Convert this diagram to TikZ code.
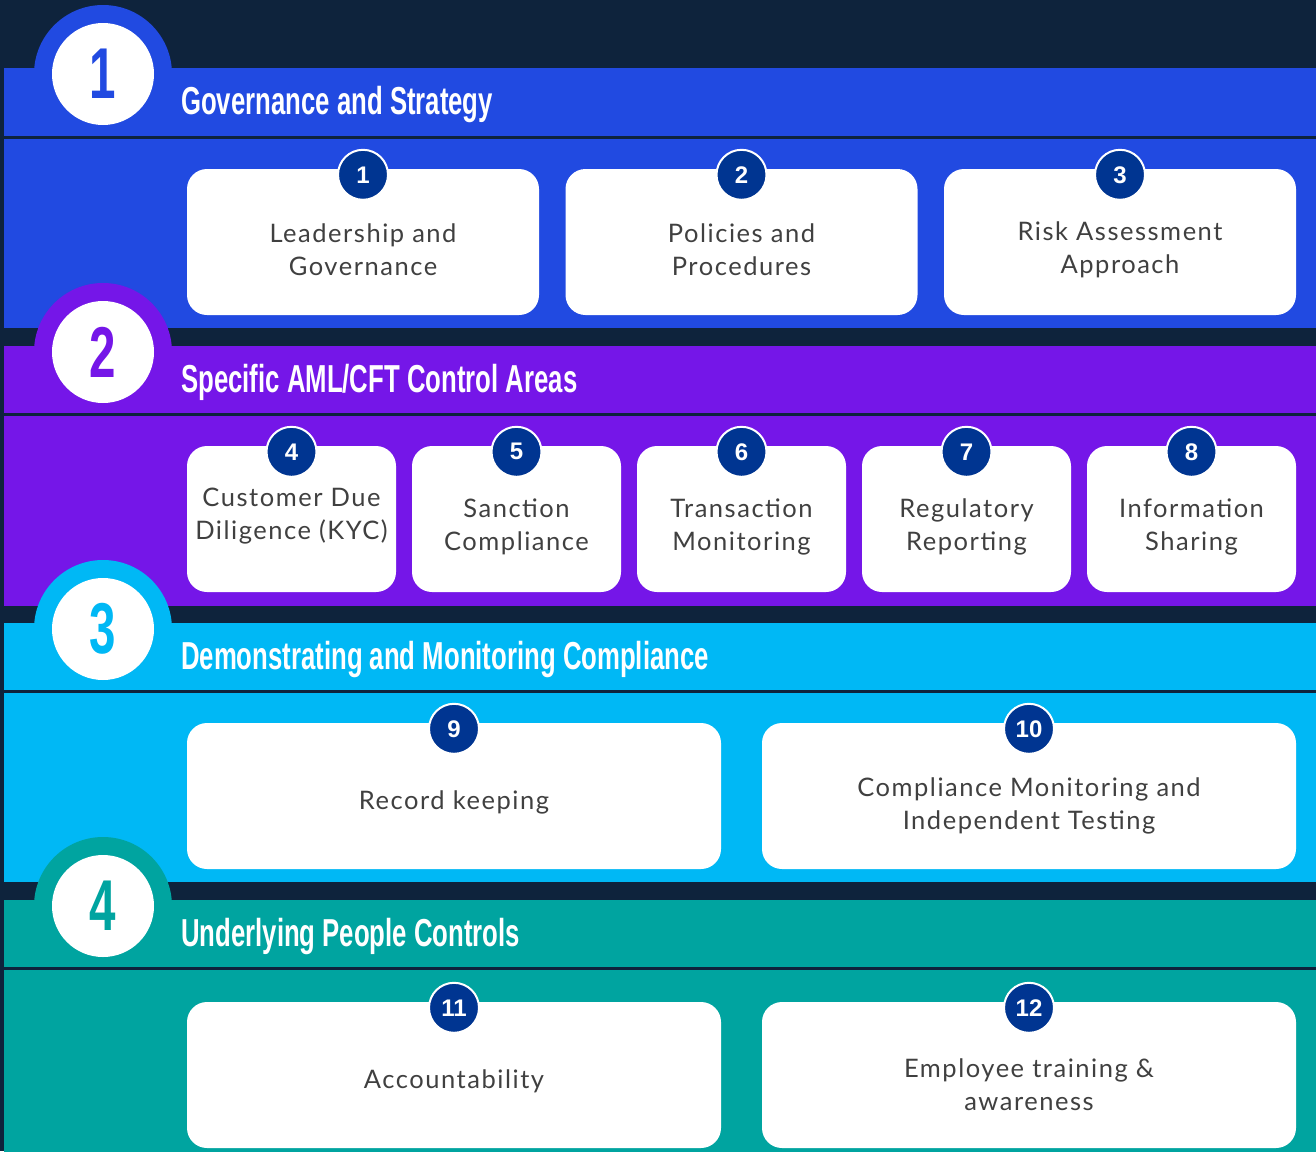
\documentclass[tikz,border=0pt]{standalone}
\usepackage{fontspec}
\setmainfont{Lato}
\newfontfamily\headfont{Liberation Sans}[FakeStretch=0.66]
\newfontfamily\bodyfont{Lato}[LetterSpace=6]
\newfontfamily\badgefont{Liberation Sans}
\usetikzlibrary{calc}
\definecolor{bg}{RGB}{14,35,60}
\definecolor{bandA}{RGB}{33,74,225}
\definecolor{bandB}{RGB}{117,22,232}
\definecolor{bandC}{RGB}{0,184,245}
\definecolor{bandD}{RGB}{0,164,160}
\definecolor{badgec}{RGB}{0,53,145}
\definecolor{txtc}{RGB}{64,64,64}
\tikzset{
  card/.style={fill=white, rounded corners=20pt, minimum height=146pt, inner sep=0pt},
  badge/.style={circle, fill=badgec, draw=white, line width=2pt, minimum size=50pt, inner sep=0pt,
     text=white, font=\badgefont\bfseries\fontsize{24}{24}\selectfont},
  cardtxt/.style={align=center, text=txtc, inner sep=0pt, font=\bodyfont\fontsize{25.5}{33}\selectfont},
  headtxt/.style={anchor=base west, inner sep=0pt, text=white, font=\headfont\bfseries\fontsize{39}{39}\selectfont},
  bignum/.style={circle, fill=white, minimum size=102pt, inner sep=0pt, font=\headfont\bfseries\fontsize{72}{72}\selectfont}
}
\begin{document}
\begin{tikzpicture}[x=1pt,y=-1pt]
\fill[bg] (0,0) rectangle (1316,1151);
\useasboundingbox (0,0) rectangle (1316,1151);
% ---------- band 1
\fill[bandA] (103,74) circle (69);
\fill[bandA] (4,68) rectangle (1316,136);
\fill[bg] (4,136) rectangle (1316,139);
\fill[bandA] (4,139) rectangle (1316,328);
\node[bignum, text=bandA] (c1) at (103,74) {1};
\node[headtxt] (h1) at (181,114) {Governance and Strategy};
\node[card, minimum width=352pt] (b1) at (363,242) {};
\node[card, minimum width=352pt] (b2) at (741.5,242) {};
\node[card, minimum width=352pt] (b3) at (1120,242) {};
% ---------- band 2
\fill[bandB] (103,352) circle (69);
\fill[bandB] (4,346) rectangle (1316,413);
\fill[bg] (4,413) rectangle (1316,416);
\fill[bandB] (4,416) rectangle (1316,606);
\node[bignum, text=bandB] (c2) at (103,352) {2};
\node[headtxt] (h2) at (181,392) {Specific AML/CFT Control Areas};
\node[card, minimum width=209pt] (b4) at (291.5,519) {};
\node[card, minimum width=209pt] (b5) at (516.5,519) {};
\node[card, minimum width=209pt] (b6) at (741.5,519) {};
\node[card, minimum width=209pt] (b7) at (966.5,519) {};
\node[card, minimum width=209pt] (b8) at (1191.5,519) {};
% ---------- band 3
\fill[bandC] (103,629) circle (69);
\fill[bandC] (4,623) rectangle (1316,690);
\fill[bg] (4,690) rectangle (1316,693);
\fill[bandC] (4,693) rectangle (1316,882);
\node[bignum, text=bandC] (c3) at (103,629) {3};
\node[headtxt] (h3) at (181,669) {Demonstrating and Monitoring Compliance};
\node[card, minimum width=534pt] (b9) at (454,796) {};
\node[card, minimum width=534pt] (b10) at (1029,796) {};
% ---------- band 4
\fill[bandD] (103,906) circle (69);
\fill[bandD] (4,900) rectangle (1316,967);
\fill[bg] (4,967) rectangle (1316,970);
\fill[bandD] (4,970) rectangle (1316,1160);
\node[bignum, text=bandD] (c4) at (103,906) {4};
\node[headtxt] (h4) at (181,946) {Underlying People Controls};
\node[card, minimum width=534pt] (b11) at (454,1075) {};
\node[card, minimum width=534pt] (b12) at (1029,1075) {};
% ---------- badges
\foreach \i in {1,...,12}{
  \node[badge] (n\i) at ($(b\i.north)+(0,6)$) {\i};
}
% ---------- card texts
\node[cardtxt] (t1) at ($(b1.center)+(0,8)$) {Leadership and\\Governance};
\node[cardtxt] (t2) at ($(b2.center)+(0,8)$) {Policies and\\Procedures};
\node[cardtxt] (t3) at ($(b3.center)+(0,8)$) {Risk Assessment\\Approach};
\node[cardtxt] (t4) at ($(b4.center)+(0,-3)$) {Customer Due\\Diligence (KYC)};
\node[cardtxt] (t5) at ($(b5.center)+(0,8)$) {Sanction\\Compliance};
\node[cardtxt] (t6) at ($(b6.center)+(0,8)$) {Transaction\\Monitoring};
\node[cardtxt] (t7) at ($(b7.center)+(0,8)$) {Regulatory\\Reporting};
\node[cardtxt] (t8) at ($(b8.center)+(0,8)$) {Information\\Sharing};
\node[cardtxt] (t9) at ($(b9.center)+(0,6)$) {Record keeping};
\node[cardtxt] (t10) at ($(b10.center)+(0,10)$) {Compliance Monitoring and\\Independent Testing};
\node[cardtxt] (t11) at ($(b11.center)+(0,6)$) {Accountability};
\node[cardtxt] (t12) at ($(b12.center)+(0,10)$) {Employee training \&\\awareness};
\end{tikzpicture}
\end{document}
